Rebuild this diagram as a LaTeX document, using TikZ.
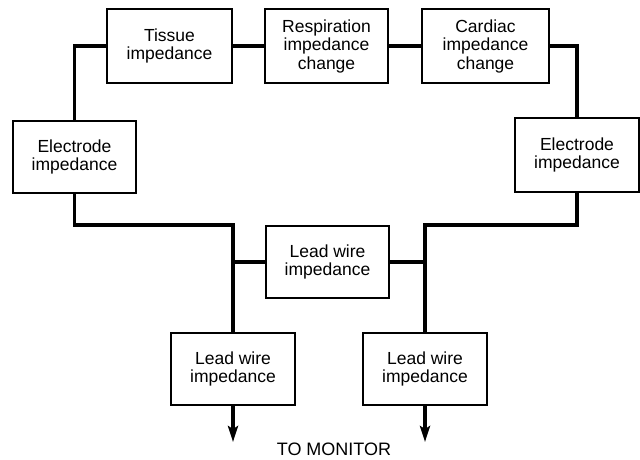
\documentclass[tikz,border=0pt]{standalone}
\usepackage{fontspec}
\setmainfont{Liberation Sans}
\usetikzlibrary{arrows.meta}
\begin{document}
\begin{tikzpicture}[x=1pt,y=-1pt,
  blk/.style={draw,line width=1.3pt,minimum width=124pt,minimum height=73pt,inner sep=0pt,align=center,font=\fontsize{17.5}{18.5}\selectfont},
  wire/.style={line width=3.2pt},
  outarrow/.style={line width=3.2pt,-{Stealth[length=16pt,width=10pt,inset=3pt]}}]
\useasboundingbox (0,0) rectangle (640,459);
\node[blk,minimum width=125pt,minimum height=74pt] (tis) at (169.5,46) {Tissue\\impedance};
\node[blk,minimum width=123pt,minimum height=74pt] (res) at (326.5,46) {Respiration\\impedance\\change};
\node[blk,minimum width=127pt,minimum height=74pt] (car) at (485.5,46) {Cardiac\\impedance\\change};
\node[blk,minimum width=123pt,minimum height=72pt] (lel) at (74.5,157) {Electrode\\impedance};
\node[blk,minimum width=124pt,minimum height=74pt] (rel) at (577,155) {Electrode\\impedance};
\node[blk,minimum width=123pt,minimum height=72pt] (mid) at (327.5,262) {Lead wire\\impedance};
\node[blk,minimum width=124pt,minimum height=72pt] (llw) at (233,369) {Lead wire\\impedance};
\node[blk,minimum width=124pt,minimum height=72pt] (rlw) at (425,369) {Lead wire\\impedance};
\coordinate (jl) at (233,225);
\coordinate (jr) at (425,225);
\coordinate (al) at (233,442);
\coordinate (ar) at (425,442);
\node[font=\fontsize{18}{18}\selectfont,anchor=base,inner sep=0pt] (mon) at (334,455) {TO MONITOR};
\draw[wire] (tis.west) -| (lel.north);
\draw[wire] (tis.east) -- (res.west);
\draw[wire] (res.east) -- (car.west);
\draw[wire] (car.east) -| (rel.north);
\draw[wire] (lel.south) |- (jl) -- (llw.north);
\draw[wire] (rel.south) |- (jr) -- (rlw.north);
\draw[wire] (mid.west) -- (mid.west -| jl);
\draw[wire] (mid.east) -- (mid.east -| jr);
\draw[outarrow] (llw.south) -- (al);
\draw[outarrow] (rlw.south) -- (ar);
\end{tikzpicture}
\end{document}
